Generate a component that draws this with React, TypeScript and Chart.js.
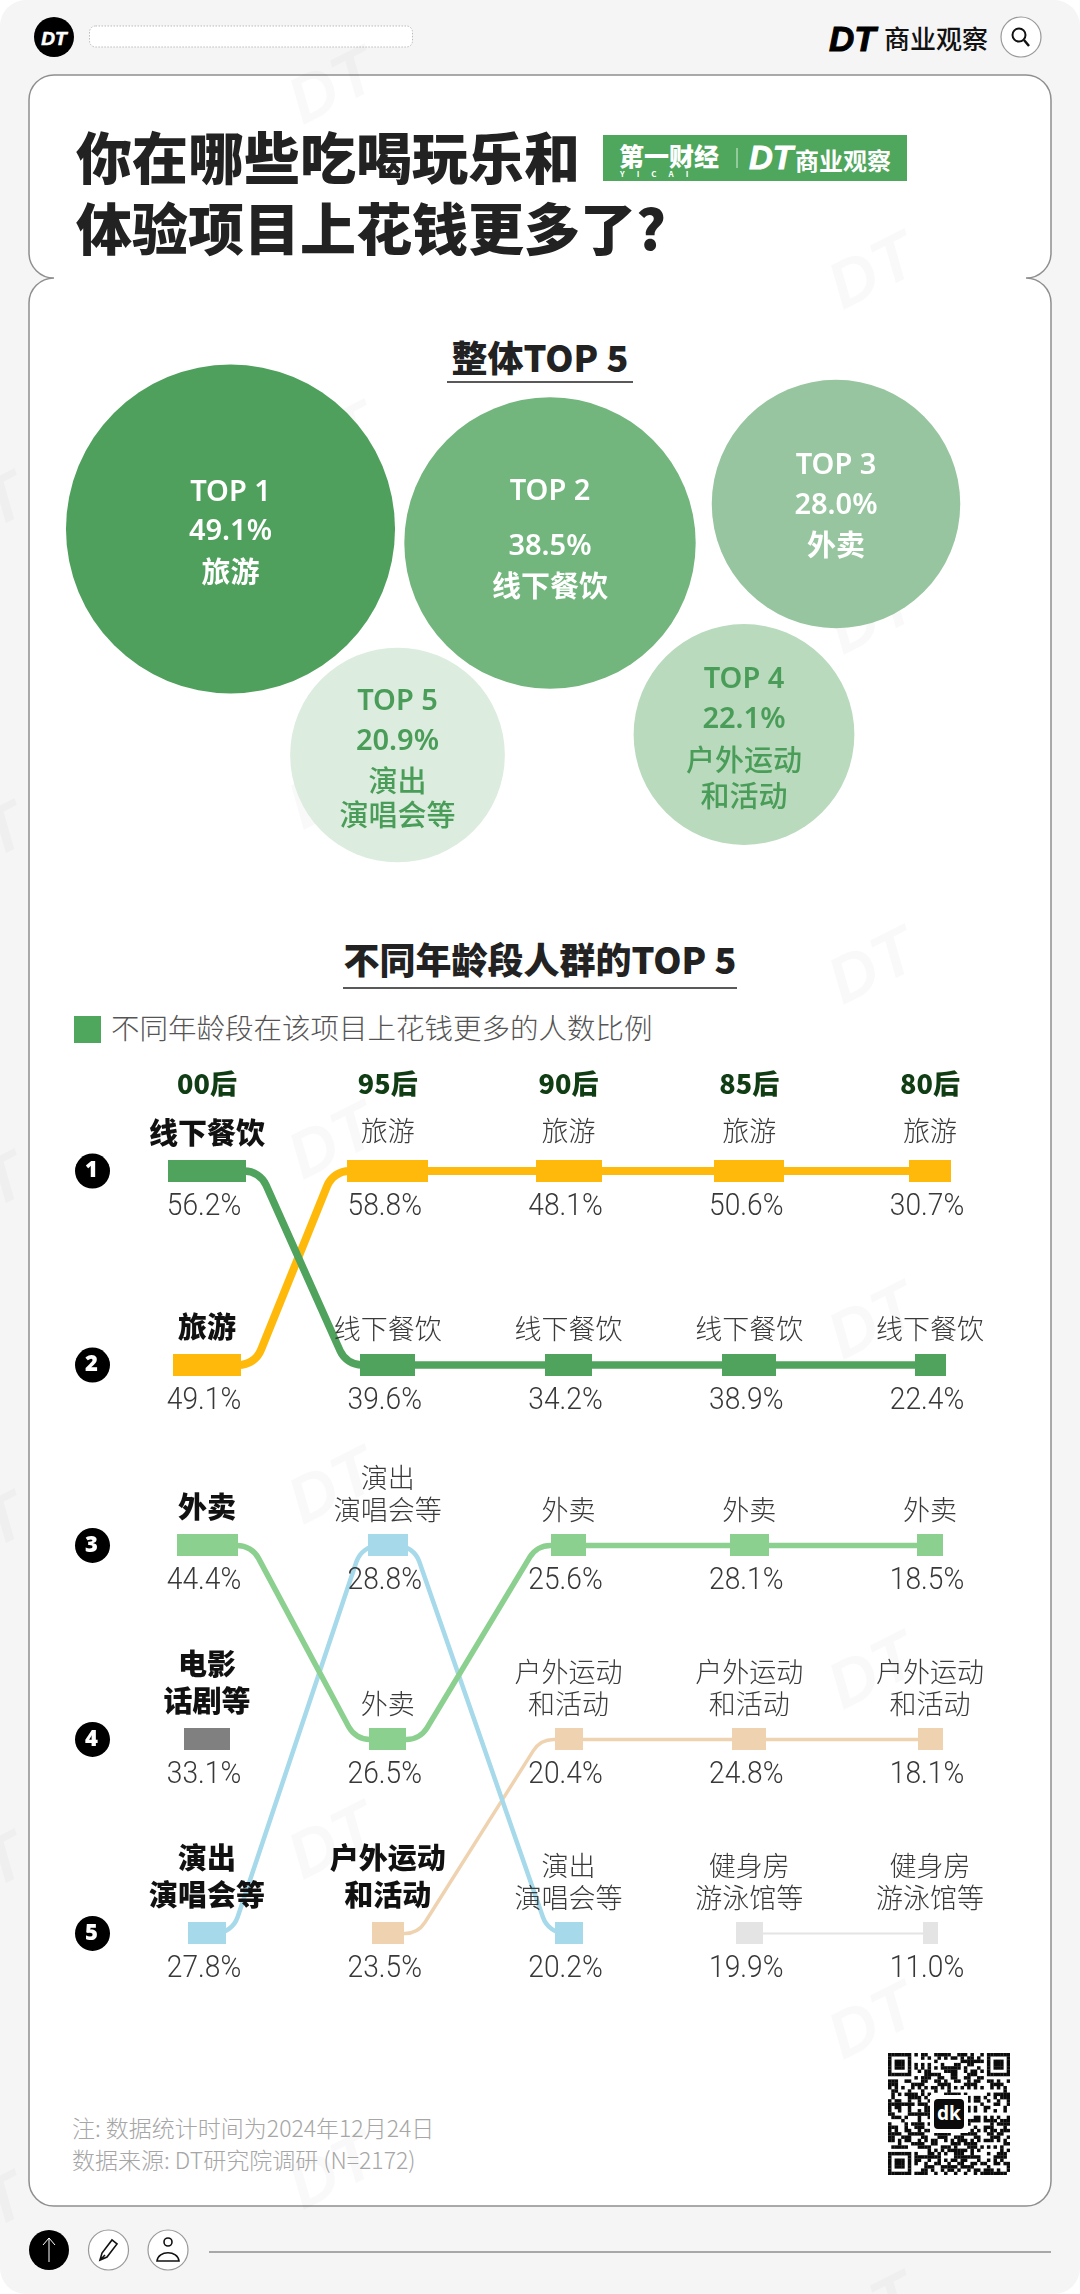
import React, { useEffect, useRef } from "react";
import { Chart, registerables } from "chart.js";

Chart.register(...registerables);

// ---------- data ----------
const overallLabels = [["旅游"], ["线下餐饮"], ["外卖"], ["户外运动", "和活动"], ["演出", "演唱会等"]];
const overallTop = ["TOP 1", "TOP 2", "TOP 3", "TOP 4", "TOP 5"];
const overallValues = [49.1, 38.5, 28.0, 22.1, 20.9];
const overallPackX = [230.5, 550, 836, 744, 397.5];
const overallPackY = [529, 543, 504, 734.5, 755];

const ageGroups = ["00后", "95后", "90后", "85后", "80后"];

const dining = [56.2, 39.6, 34.2, 38.9, 22.4];
const diningRank = [1, 2, 2, 2, 2];
const travel = [49.1, 58.8, 48.1, 50.6, 30.7];
const travelRank = [2, 1, 1, 1, 1];
const takeaway = [44.4, 26.5, 25.6, 28.1, 18.5];
const takeawayRank = [3, 4, 3, 3, 3];
const shows = [27.8, 28.8, 20.2, null, null];
const showsRank = [5, 3, 5, null, null];
const outdoor = [null, 23.5, 20.4, 24.8, 18.1];
const outdoorRank = [null, 5, 4, 4, 4];
const gym = [null, null, null, 19.9, 11.0];
const gymRank = [null, null, null, 5, 5];
const movies = [33.1, null, null, null, null];
const moviesRank = [4, null, null, null, null];

// rank rows: the gap between row 2 and row 3 is a little tighter in the original
const rankRows = [1, 2, 2.93, 3.93, 4.93];

const FONT = '"Noto Sans CJK SC", "Noto Sans", sans-serif';
const NUM_FONT = 'Roboto, "Noto Sans CJK SC", sans-serif';

const bumpSeries = [
  { name: ["线下餐饮"], values: dining, ranks: diningRank, color: "#4fa35c", link: 7.5, bold: [0] },
  { name: ["旅游"], values: travel, ranks: travelRank, color: "#ffb90a", link: 8, bold: [0] },
  { name: ["外卖"], values: takeaway, ranks: takeawayRank, color: "#8bd08f", link: 5.5, bold: [0] },
  { name: ["演出", "演唱会等"], values: shows, ranks: showsRank, color: "#a6d9ea", link: 4.5, bold: [0] },
  { name: ["户外运动", "和活动"], values: outdoor, ranks: outdoorRank, color: "#efd3b1", link: 3.5, bold: [1] },
  { name: ["健身房", "游泳馆等"], values: gym, ranks: gymRank, color: "#e4e4e4", link: 2, bold: [] as number[] },
  { name: ["电影", "话剧等"], values: movies, ranks: moviesRank, color: "#808080", link: 0, bold: [0] },
];

const bubbleColors = ["#4fa05c", "#72b57d", "#97c59f", "#b9dabd", "#dcecde"];
const bubbleText = ["#ffffff", "#ffffff", "#ffffff", "#4a9d58", "#4a9d58"];

const MARK_PER_POINT = 1.38;
const MARK_H = 22;
const BUBBLE_K = 23.48;

const markWidth = (v: number) => v * MARK_PER_POINT;

function markImage(v: number, color: string) {
  const c = document.createElement("canvas");
  c.width = Math.round(markWidth(v));
  c.height = MARK_H;
  const g = c.getContext("2d")!;
  g.fillStyle = color;
  g.fillRect(0, 0, c.width, c.height);
  return c;
}

// ---------- plugins ----------
const bubbleLabels = {
  id: "bubbleLabels",
  afterDatasetsDraw(chart: any) {
    const { ctx } = chart;
    const pts = chart.getDatasetMeta(0).data;
    const layouts = [
      [-36, 3, 43],
      [-51, 4, 43],
      [-38, 2, 41],
      [-55, -15, 25, 61],
      [-53, -13, 26, 60],
    ];
    ctx.save();
    ctx.textAlign = "center";
    ctx.textBaseline = "middle";
    pts.forEach((p: any, i: number) => {
      ctx.fillStyle = bubbleText[i];
      const ys = layouts[i];
      ctx.font = `600 29px "Noto Sans", ${FONT}`;
      ctx.fillText(overallTop[i], p.x, p.y + ys[0]);
      ctx.fillText(overallValues[i].toFixed(1) + "%", p.x, p.y + ys[1]);
      ctx.font = `${i < 3 ? 700 : 500} 29px ${FONT}`;
      overallLabels[i].forEach((t, k) => ctx.fillText(t, p.x, p.y + ys[2 + k]));
    });
    ctx.restore();
  },
};

const bumpPlugin = {
  id: "bump",
  beforeDraw(chart: any) {
    const { ctx, scales } = chart;
    ctx.save();
    ctx.fillStyle = "#000";
    rankRows.forEach((r) => {
      ctx.beginPath();
      ctx.arc(92.5, scales.y.getPixelForValue(r), 17.5, 0, Math.PI * 2);
      ctx.fill();
    });
    ctx.restore();
  },
  beforeDatasetDraw(chart: any, args: any) {
    const s = bumpSeries[args.index];
    if (!s.link) return;
    const pts = args.meta.data;
    const { ctx } = chart;
    ctx.save();
    ctx.strokeStyle = s.color;
    ctx.lineWidth = s.link;
    ctx.lineJoin = "round";
    for (let i = 0; i < pts.length - 1; i++) {
      const a = s.values[i];
      const b = s.values[i + 1];
      if (a == null || b == null) continue;
      const p = pts[i];
      const q = pts[i + 1];
      ctx.beginPath();
      ctx.moveTo(p.x, p.y);
      if (s.ranks[i] === s.ranks[i + 1]) {
        ctx.lineTo(q.x, q.y);
      } else {
        const rows = Math.abs((s.ranks[i] as number) - (s.ranks[i + 1] as number));
        const inset = rows > 1 ? 6 : 14;
        const c1 = p.x + markWidth(a) / 2 + inset;
        const c2 = q.x - markWidth(b) / 2 - inset;
        ctx.arcTo(c1, p.y, c2, q.y, 24);
        ctx.arcTo(c2, q.y, q.x, q.y, 24);
        ctx.lineTo(q.x, q.y);
      }
      ctx.stroke();
    }
    ctx.restore();
  },
  afterDatasetsDraw(chart: any) {
    const { ctx } = chart;
    ctx.save();
    ctx.textAlign = "center";
    ctx.textBaseline = "middle";
    bumpSeries.forEach((s, di) => {
      const pts = chart.getDatasetMeta(di).data;
      s.values.forEach((v, i) => {
        if (v == null) return;
        const p = pts[i];
        ctx.save();
        ctx.fillStyle = "#383838";
        ctx.font = `300 32px ${NUM_FONT}`;
        ctx.translate(p.x - 3, p.y + 36);
        ctx.scale(0.88, 1);
        ctx.fillText(v.toFixed(1) + "%", 0, 0);
        ctx.restore();
        const isBold = s.bold.includes(i);
        const rankIdx = (s.ranks[i] as number) - 1;
        ctx.font = isBold ? `900 29px ${FONT}` : `300 27px ${FONT}`;
        ctx.fillStyle = isBold ? "#111" : "#3a3a3a";
        const last = isBold ? -38 : rankIdx === 0 ? -40 : -36;
        const step = isBold ? 37 : 32;
        const n = s.name.length;
        s.name.forEach((t, k) => ctx.fillText(t, p.x, p.y + last - (n - 1 - k) * step));
      });
    });
    ctx.restore();
  },
};

// ---------- charts ----------
function BubbleChart() {
  const ref = useRef<HTMLCanvasElement>(null);
  useEffect(() => {
    const chart = new Chart(ref.current!, {
      type: "bubble",
      data: {
        datasets: [
          {
            label: "整体TOP 5",
            data: overallValues.map((v, i) => ({
              x: overallPackX[i],
              y: overallPackY[i],
              r: BUBBLE_K * Math.sqrt(v),
            })),
            backgroundColor: bubbleColors,
            borderWidth: 0,
            clip: false,
          } as any,
        ],
      },
      options: {
        animation: false,
        responsive: false,
        devicePixelRatio: 1,
        layout: { padding: 0, autoPadding: false },
        plugins: { legend: { display: false }, tooltip: { enabled: false } },
        scales: {
          x: { type: "linear", min: 0, max: 1080, display: false },
          y: { type: "linear", min: 340, max: 880, reverse: true, display: false },
        },
      },
      plugins: [bubbleLabels],
    } as any);
    return () => chart.destroy();
  }, []);
  return <canvas ref={ref} width={1080} height={540} style={{ position: "absolute", left: 0, top: 340, width: 1080, height: 540 }} />;
}

function BumpChart() {
  const ref = useRef<HTMLCanvasElement>(null);
  useEffect(() => {
    const chart = new Chart(ref.current!, {
      type: "line",
      data: {
        labels: ageGroups,
        datasets: bumpSeries.map((s) => ({
          label: s.name.join(""),
          data: s.ranks.map((r) => (r == null ? null : rankRows[r - 1])),
          showLine: false,
          clip: false,
          pointRadius: 1,
          pointBorderWidth: 0,
          pointStyle: (c: any) => {
            const v = s.values[c.dataIndex];
            return v == null ? "circle" : markImage(v, s.color);
          },
        })) as any,
      },
      options: {
        animation: false,
        responsive: false,
        devicePixelRatio: 1,
        layout: { padding: { left: 0, right: 150, top: 0, bottom: 0 }, autoPadding: false },
        plugins: { legend: { display: false }, tooltip: { enabled: false } },
        scales: {
          x: {
            type: "category",
            position: "top",
            offset: false,
            grid: { display: false, drawTicks: false },
            border: { display: false },
            afterFit: (s: any) => {
              s.height = 40;
            },
            ticks: {
              padding: 0,
              autoSkip: false,
              maxRotation: 0,
              color: "#103d14",
              font: { family: FONT, size: 27, weight: "900" },
            },
          } as any,
          y: {
            type: "linear",
            reverse: true,
            min: 0.634,
            max: 5.273,
            grid: { display: false, drawTicks: false },
            border: { display: false },
            afterBuildTicks: (s: any) => {
              s.ticks = rankRows.map((value) => ({ value }));
            },
            afterFit: (s: any) => {
              s.width = 207;
              s.paddingTop = 0;
              s.paddingBottom = 0;
            },
            ticks: {
              autoSkip: false,
              crossAlign: "center",
              padding: 109,
              color: "#ffffff",
              font: { family: '"Noto Sans", sans-serif', size: 22, weight: "900" },
              callback: (v: any) => String(rankRows.indexOf(v) + 1),
            },
          } as any,
        },
      },
      plugins: [bumpPlugin],
    } as any);
    return () => chart.destroy();
  }, []);
  return <canvas ref={ref} width={1080} height={940} style={{ position: "absolute", left: 0, top: 1060, width: 1080, height: 940 }} />;
}

// ---------- page furniture ----------
function Txt(props: { x: number; y: number; size: number; weight?: number; color?: string; anchor?: "left" | "center"; children: any; font?: string; italic?: boolean; spacing?: number; stroke?: number }) {
  const { x, y, size, weight = 400, color = "#222", anchor = "left", children, font = FONT, italic, spacing, stroke } = props;
  return (
    <div
      style={{
        position: "absolute",
        left: x,
        top: y,
        transform: anchor === "center" ? "translate(-50%,-50%)" : "translateY(-50%)",
        fontFamily: font,
        fontSize: size,
        fontWeight: weight,
        color,
        whiteSpace: "nowrap",
        lineHeight: 1,
        fontStyle: italic ? "italic" : "normal",
        letterSpacing: spacing,
        WebkitTextStroke: stroke ? `${stroke}px ${color}` : undefined,
      }}
    >
      {children}
    </div>
  );
}

const wmSpots = [
  [410, 45], [950, 230], [410, 400], [950, 575], [60, 470], [410, 750], [950, 925], [60, 800],
  [410, 1100], [950, 1280], [60, 1150], [410, 1445], [950, 1630], [60, 1490], [410, 1800],
  [950, 1980], [60, 1830], [410, 2130], [950, 2270], [60, 2170],
];

function Watermarks() {
  return (
    <>
      {wmSpots.map(([x, y], i) => (
        <div
          key={i}
          style={{
            position: "absolute",
            left: x,
            top: y,
            transform: "translate(-50%,-50%) rotate(-27deg)",
            whiteSpace: "nowrap",
            color: "rgba(0,0,0,0.025)",
            fontFamily: FONT,
            fontWeight: 900,
            fontSize: 44,
          }}
        >
          <span style={{ fontFamily: '"Liberation Sans"', fontStyle: "italic", fontSize: 66 }}>DT</span>商业观察
        </div>
      ))}
    </>
  );
}

function QrCode() {
  const n = 37;
  const cell = 122 / n;
  const cells: any[] = [];
  const finder = (r: number, c: number) => {
    const inBox = (r0: number, c0: number) => r >= r0 && r < r0 + 7 && c >= c0 && c < c0 + 7;
    for (const [r0, c0] of [[0, 0], [0, n - 7], [n - 7, 0]]) {
      if (inBox(r0, c0)) {
        const a = r - r0;
        const b = c - c0;
        return a === 0 || a === 6 || b === 0 || b === 6 || (a >= 2 && a <= 4 && b >= 2 && b <= 4);
      }
    }
    const near = (r < 8 && c < 8) || (r < 8 && c >= n - 8) || (r >= n - 8 && c < 8);
    if (near) return false;
    const h = (r * 2654435761 + c * 40503 + r * c * 97) >>> 0;
    return ((h >>> 7) ^ (h >>> 3) ^ r ^ (c * 3)) % 2 === 0;
  };
  for (let r = 0; r < n; r++) {
    for (let c = 0; c < n; c++) {
      if (finder(r, c)) cells.push(<rect key={r + "-" + c} x={c * cell} y={r * cell} width={cell + 0.2} height={cell + 0.2} fill="#0b0b0b" />);
    }
  }
  return (
    <>
      <svg style={{ position: "absolute", left: 888, top: 2053 }} width={122} height={122}>
        {cells}
        <rect x={42} y={42} width={38} height={38} fill="#fff" />
        <rect x={46} y={46} width={30} height={30} rx={4} fill="#0b0b0b" />
      </svg>
      <Txt x={949} y={2113} size={19} weight={700} color="#fff" anchor="center" font='"Noto Sans"'>dk</Txt>
    </>
  );
}

const cardPath =
  "M54 75 H1026 A25 25 0 0 1 1051 100 V253 A25 25 0 0 1 1026 278 A25 25 0 0 1 1051 303 V2181 A25 25 0 0 1 1026 2206 H54 A25 25 0 0 1 29 2181 V303 A25 25 0 0 1 54 278 A25 25 0 0 1 29 253 V100 A25 25 0 0 1 54 75 Z";

function Furniture() {
  return (
    <>
      <div style={{ position: "absolute", inset: 0, background: "#f5f5f5", borderRadius: 26 }} />
      <svg style={{ position: "absolute", left: 0, top: 0 }} width={1080} height={2294}>
        <path d={cardPath} fill="#ffffff" stroke="#8f8f8f" strokeWidth={1.5} />
        <line x1={209} y1={2252} x2={1051} y2={2252} stroke="#a8a8a8" strokeWidth={2} />
        <circle cx={54} cy={37} r={20} fill="#000" />
        <rect x={89.5} y={26} width={323} height={21} rx={6} fill="#fff" stroke="#bbb" strokeWidth={1} strokeDasharray="1.5 1.5" />
        <circle cx={1021} cy={37} r={20} fill="#fff" stroke="#999" strokeWidth={1.2} />
        <circle cx={1019} cy={35} r={6.5} fill="none" stroke="#111" strokeWidth={2} />
        <line x1={1024} y1={40} x2={1029} y2={46} stroke="#111" strokeWidth={2.5} />
        <circle cx={49} cy={2250} r={20} fill="#000" />
        <path d="M49 2262 V2238 M43 2245 L49 2238 L55 2245" fill="none" stroke="#fff" strokeWidth={1} />
        <circle cx={108.5} cy={2250} r={20} fill="#fff" stroke="#999" strokeWidth={1.2} />
        <path d="M100 2260 L102 2253 L112 2240 L117 2244 L107 2257 Z M100 2260 L105 2255" fill="none" stroke="#111" strokeWidth={1.6} />
        <circle cx={168} cy={2250} r={20} fill="#fff" stroke="#999" strokeWidth={1.2} />
        <circle cx={168} cy={2242} r={4} fill="none" stroke="#111" strokeWidth={1.6} />
        <path d="M157 2261 C158 2250 178 2250 179 2261 Z" fill="none" stroke="#111" strokeWidth={1.6} />
        <rect x={603} y={135} width={304} height={46} fill="#4fa65d" />
        <line x1={737} y1={148} x2={737} y2={168} stroke="#d9eedd" strokeWidth={1} />
        <line x1={447} y1={382} x2={633} y2={382} stroke="#222" strokeWidth={1.6} />
        <line x1={343} y1={988} x2={737} y2={988} stroke="#222" strokeWidth={1.6} />
        <rect x={74} y={1016} width={27} height={27} fill="#4fa65d" />
      </svg>
      <Watermarks />
      <Txt x={54} y={38} size={19} weight={700} color="#fff" anchor="center" italic font='"Liberation Sans"' stroke={0.6}>DT</Txt>
      <Txt x={829} y={38} size={35} weight={700} color="#000" italic font='"Liberation Sans"' stroke={1}>DT</Txt>
      <Txt x={884} y={38} size={26} weight={500} color="#111">商业观察</Txt>

      <Txt x={76} y={155} size={56} weight={900} color="#222">你在哪些吃喝玩乐和</Txt>
      <Txt x={76} y={226} size={56} weight={900} color="#222">体验项目上花钱更多了?</Txt>

      <Txt x={619} y={155} size={25} weight={900} color="#fff">第一财经</Txt>
      <Txt x={620} y={174} size={8} weight={700} color="#fff" spacing={12}>YICAI</Txt>
      <Txt x={749} y={157} size={33} weight={700} color="#fff" italic font='"Liberation Sans"' stroke={0.8}>DT</Txt>
      <Txt x={795} y={160} size={24} weight={700} color="#fff">商业观察</Txt>

      <Txt x={540} y={356} size={36} weight={900} color="#222" anchor="center">整体TOP 5</Txt>
      <Txt x={540} y={958} size={36} weight={900} color="#222" anchor="center">不同年龄段人群的TOP 5</Txt>
      <Txt x={111} y={1027} size={28.5} weight={300} color="#555">不同年龄段在该项目上花钱更多的人数比例</Txt>

      <Txt x={72} y={2127} size={23} weight={300} color="#a6a6a6">注: 数据统计时间为2024年12月24日</Txt>
      <Txt x={72} y={2159} size={23} weight={300} color="#a6a6a6">数据来源: DT研究院调研 (N=2172)</Txt>
      <QrCode />
    </>
  );
}

export default function App() {
  return (
    <div style={{ position: "absolute", left: 0, top: 0, width: 1080, height: 2294, overflow: "hidden", background: "#fff" }}>
      <Furniture />
      <BubbleChart />
      <BumpChart />
    </div>
  );
}
